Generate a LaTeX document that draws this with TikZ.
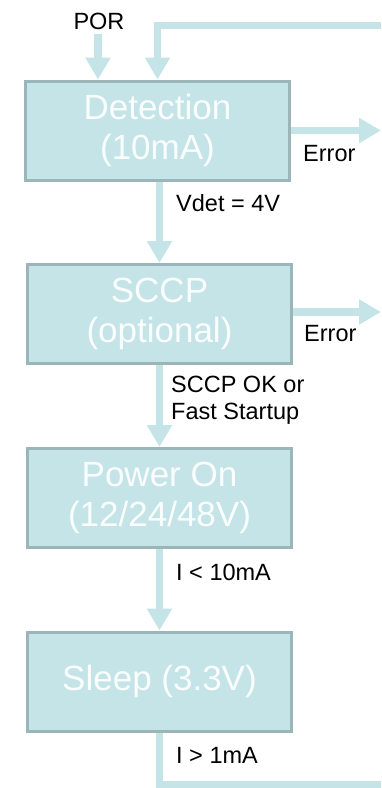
\documentclass[tikz,border=0pt]{standalone}
\usepackage{fontspec}
\setmainfont{Liberation Sans}
\usetikzlibrary{arrows.meta,backgrounds}
\definecolor{boxfill}{HTML}{C5E4E7}
\definecolor{boxline}{HTML}{9BB5B9}
\definecolor{flow}{HTML}{C5E4E7}
\definecolor{boxtext}{HTML}{FAFDFD}
\begin{document}
\begin{tikzpicture}[x=1pt,y=-1pt,
  state/.style={draw=boxline,line width=3pt,fill=boxfill,minimum width=264pt,minimum height=99pt,
    inner sep=0pt,align=center,text=boxtext,font=\fontsize{35}{40}\selectfont},
  flowline/.style={draw=flow,line width=7.5pt,-{Triangle[length=22pt,width=24pt]}},
  plainflow/.style={draw=flow,line width=7.5pt},
  lbl/.style={inner sep=0pt,anchor=west,font=\fontsize{23.5}{27}\selectfont,align=left}]
\useasboundingbox (0,0) rectangle (381,788);
\node[state] (det) at (157.5,130.5) {Detection\\(10mA)};
\node[state] (sccp) at (159.5,314) {SCCP\\(optional)};
\node[state] (pwr) at (159.5,498) {Power On\\(12/24/48V)};
\node[state] (slp) at (159.5,681.5) {Sleep (3.3V)};
\coordinate (por) at (98,34);
\coordinate (loopin) at (381,25.5);
\coordinate (errA) at (381,130.5);
\coordinate (errB) at (381,312);
\coordinate (loopout) at (381,785);
\begin{scope}[on background layer]
\draw[flowline] (por) -- (por |- det.north);
\draw[flowline] (loopin) -| (det.north);
\draw[flowline] (det.east |- errA) -- (errA);
\draw[flowline] (sccp.east |- errB) -- (errB);
\draw[flowline] (sccp.north |- det.south) -- (sccp.north);
\draw[flowline] (sccp.south) -- (pwr.north);
\draw[flowline] (pwr.south) -- (slp.north);
\draw[plainflow] (slp.south) |- (loopout);
\end{scope}
\node[inner sep=0pt,font=\fontsize{23.5}{27}\selectfont] (porlbl) at (99,21) {POR};
\node[lbl] (l1) at (176,203) {Vdet = 4V};
\node[lbl] (e1) at (303,154) {Error};
\node[lbl] (e2) at (304,334) {Error};
\node[lbl] (l2) at (171,400.5) {SCCP OK or\\Fast Startup};
\node[lbl] (l3) at (176,572) {I < 10mA};
\node[lbl] (l4) at (176,755) {I > 1mA};
\end{tikzpicture}
\end{document}
